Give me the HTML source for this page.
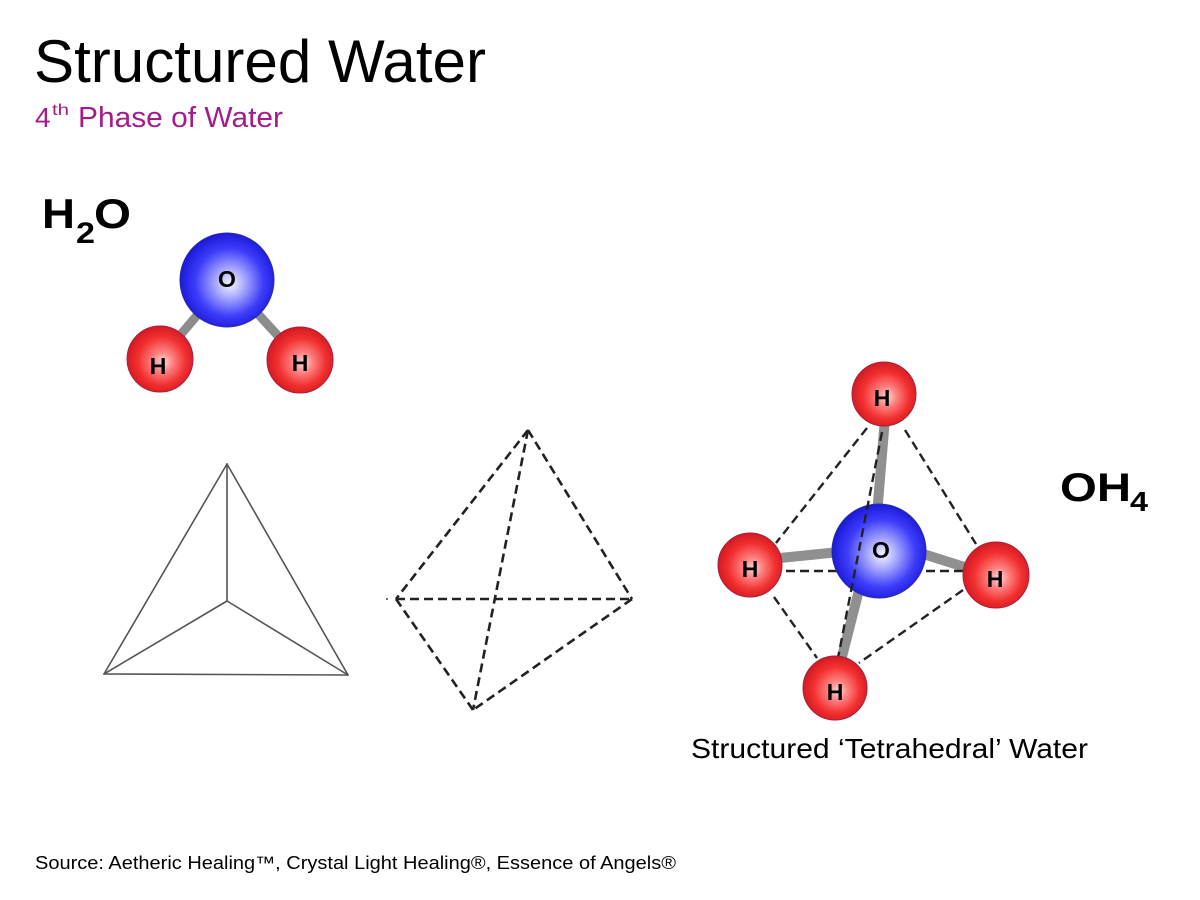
<!DOCTYPE html>
<html>
<head>
<meta charset="utf-8">
<style>
  html, body { margin: 0; padding: 0; background: #ffffff; }
  body { width: 1200px; height: 900px; overflow: hidden; }
  svg { display: block; }
  text { font-family: "Liberation Sans", Arial, sans-serif; }
</style>
</head>
<body>
<svg width="1200" height="900" viewBox="0 0 1200 900" xmlns="http://www.w3.org/2000/svg">
  <defs>
    <radialGradient id="gBlue" cx="52%" cy="52%" r="52%" fx="54%" fy="54%">
      <stop offset="0" stop-color="#f4f4ff"/>
      <stop offset="0.3" stop-color="#a8a8ff"/>
      <stop offset="0.7" stop-color="#3c3cfa"/>
      <stop offset="1" stop-color="#1a1ad8"/>
    </radialGradient>
    <radialGradient id="gRed" cx="52%" cy="52%" r="52%" fx="55%" fy="55%">
      <stop offset="0" stop-color="#ffd8d8"/>
      <stop offset="0.3" stop-color="#ff8080"/>
      <stop offset="0.7" stop-color="#f23030"/>
      <stop offset="1" stop-color="#d41a22"/>
    </radialGradient>
  </defs>

  <rect width="1200" height="900" fill="#ffffff"/>

  <!-- Title -->
  <text x="34" y="82" font-size="60" fill="#000" textLength="452" lengthAdjust="spacingAndGlyphs">Structured Water</text>
  <text x="35" y="127" font-size="28" fill="#a21c8c">4</text>
  <text x="52" y="115" font-size="16" fill="#a21c8c" textLength="17" lengthAdjust="spacingAndGlyphs">th</text>
  <text x="78" y="127" font-size="29" fill="#a21c8c" textLength="205" lengthAdjust="spacingAndGlyphs">Phase of Water</text>

  <!-- H2O label -->
  <text x="42" y="228" font-size="42" font-weight="bold" fill="#000" textLength="33" lengthAdjust="spacingAndGlyphs">H</text>
  <text x="76" y="243" font-size="30" font-weight="bold" fill="#000" textLength="19" lengthAdjust="spacingAndGlyphs">2</text>
  <text x="94" y="228" font-size="42" font-weight="bold" fill="#000" textLength="37" lengthAdjust="spacingAndGlyphs">O</text>

  <!-- H2O molecule -->
  <g stroke="#8c8c8c" stroke-width="9" stroke-linecap="butt">
    <line x1="227" y1="280" x2="160" y2="359"/>
    <line x1="227" y1="280" x2="300" y2="360"/>
  </g>
  <circle cx="227" cy="280" r="47" fill="url(#gBlue)" stroke="#2a2aa8" stroke-width="1"/>
  <circle cx="160" cy="359" r="33" fill="url(#gRed)" stroke="#a8203c" stroke-width="1"/>
  <circle cx="300" cy="360" r="33" fill="url(#gRed)" stroke="#a8203c" stroke-width="1"/>
  <g font-size="23" font-weight="bold" fill="#000" text-anchor="middle">
    <text x="227" y="287">O</text>
    <text x="158" y="374">H</text>
    <text x="300" y="371">H</text>
  </g>

  <!-- Solid tetrahedron -->
  <g stroke="#555" stroke-width="1.6" fill="none" stroke-linecap="round">
    <line x1="227" y1="464" x2="104" y2="674"/>
    <line x1="227" y1="464" x2="348" y2="675"/>
    <line x1="104" y1="674" x2="348" y2="675"/>
    <line x1="227" y1="464" x2="227" y2="601"/>
    <line x1="227" y1="601" x2="104" y2="674"/>
    <line x1="227" y1="601" x2="348" y2="675"/>
  </g>

  <!-- Dashed tetrahedron -->
  <g stroke="#222" stroke-width="2.6" fill="none" stroke-dasharray="9 5">
    <line x1="528" y1="430" x2="396" y2="599"/>
    <line x1="528" y1="430" x2="632" y2="599"/>
    <line x1="528" y1="430" x2="473" y2="710"/>
    <line x1="396" y1="599" x2="632" y2="599"/>
    <line x1="396" y1="599" x2="473" y2="710"/>
    <line x1="632" y1="599" x2="473" y2="710"/>
  </g>
  <line x1="386" y1="599" x2="388" y2="599" stroke="#444" stroke-width="1.5"/>

  <!-- OH4 molecule -->
  <g stroke="#909090" stroke-width="10" stroke-linecap="butt">
    <line x1="887" y1="394" x2="874" y2="551"/>
    <line x1="869" y1="551" x2="834" y2="688"/>
    <line x1="750" y1="561" x2="879" y2="548"/>
    <line x1="879" y1="540" x2="996" y2="577"/>
  </g>
  <line x1="786" y1="571" x2="963" y2="571" stroke="#222" stroke-width="2.4" stroke-dasharray="9 5"/>
  <circle cx="879" cy="551" r="47" fill="url(#gBlue)" stroke="#2a2aa8" stroke-width="1"/>
  <g stroke="#222" stroke-width="2.4" fill="none" stroke-dasharray="9 5">
    <line x1="867" y1="428" x2="776" y2="543"/>
    <line x1="905" y1="430" x2="976" y2="544"/>
    <line x1="882" y1="432" x2="838" y2="658"/>
    <line x1="774" y1="597" x2="817" y2="658"/>
    <line x1="963" y1="590" x2="859" y2="663"/>
  </g>
  <circle cx="884" cy="394" r="32" fill="url(#gRed)" stroke="#a8203c" stroke-width="1"/>
  <circle cx="750" cy="565" r="32" fill="url(#gRed)" stroke="#a8203c" stroke-width="1"/>
  <circle cx="996" cy="575" r="33" fill="url(#gRed)" stroke="#a8203c" stroke-width="1"/>
  <circle cx="835" cy="688" r="32" fill="url(#gRed)" stroke="#a8203c" stroke-width="1"/>
  <g font-size="23" font-weight="bold" fill="#000" text-anchor="middle">
    <text x="881" y="558">O</text>
    <text x="882" y="406">H</text>
    <text x="750" y="577">H</text>
    <text x="995" y="587">H</text>
    <text x="835" y="700">H</text>
  </g>

  <!-- OH4 label -->
  <text x="1060" y="501" font-size="40" font-weight="bold" fill="#000" textLength="71" lengthAdjust="spacingAndGlyphs">OH</text>
  <text x="1130" y="511" font-size="28" font-weight="bold" fill="#000" textLength="18" lengthAdjust="spacingAndGlyphs">4</text>

  <!-- Caption -->
  <text x="691" y="758" font-size="28" fill="#000" textLength="397" lengthAdjust="spacingAndGlyphs">Structured ‘Tetrahedral’ Water</text>

  <!-- Source -->
  <text x="35" y="869" font-size="18" fill="#000" textLength="641" lengthAdjust="spacingAndGlyphs">Source: Aetheric Healing™, Crystal Light Healing®, Essence of Angels®</text>
</svg>
</body>
</html>
